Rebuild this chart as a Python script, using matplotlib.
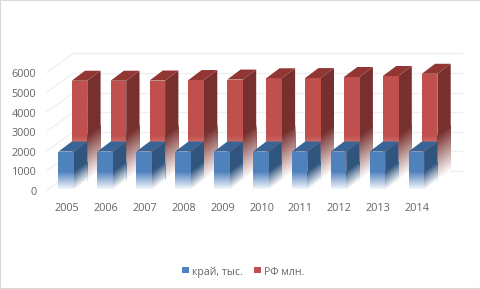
import numpy as np
import matplotlib
matplotlib.use('Agg')
import matplotlib.pyplot as plt
from matplotlib.colors import to_rgb
from matplotlib.patches import Rectangle

years = [2005, 2006, 2007, 2008, 2009, 2010, 2011, 2012, 2013, 2014]
kray = [1960, 1960, 1960, 1960, 1960, 1960, 1960, 1960, 1960, 1960]
rf = [5065, 5065, 5075, 5100, 5125, 5190, 5200, 5255, 5306, 5420]
y_ticks = [0, 1000, 2000, 3000, 4000, 5000, 6000]

W, H = 481, 289
X0, DX = 66.2, 38.9     # pixel position of first category, category step
Y0, DY = 190.0, 19.6    # pixel position of zero, pixels per 1000

# depth of one bar and of the whole floor, in data units
BAR_DX, BAR_DY = 13.3 / DX, 10 / DY * 1000
WALL_DX, WALL_DY = 26.5 / DX, 19 / DY * 1000
HALF = 7.8 / DX

TICK_COLOR = '#666666'
GRID_COLOR = '#efefef'
TEXT_SHIFT = 130


def shade(ax, x0, y0, x1, y1, height, color, fade):
    # painter's gradient: full quad first, then shorter and whiter ones over it
    rgb = np.array(to_rgb(color))
    ax.fill([x0, x1, x1, x0], [y0, y1, y1 + height, y0 + height], color=color, lw=0)
    for h in np.linspace(fade, 0, 48, endpoint=False):
        c = rgb + (1 - rgb) * (1 - h / fade)
        ax.fill([x0, x1, x1, x0], [y0, y1, y1 + h, y0 + h], color=c, lw=0)
    # hide the fringe the stacked quads leave along the bottom edge
    ax.fill([x0, x1, x1, x0], [y0 - 90, y1 - 90, y1 + 30, y0 + 30], color='white', lw=0)


def bar(ax, x, base, value, front, side, top, fade):
    left, right = x - HALF, x + HALF
    shade(ax, right, base, right + BAR_DX, base + BAR_DY, value, side, fade)
    shade(ax, left, base, right, base, value, front, fade)
    ax.fill([left, right, right + BAR_DX, left + BAR_DX],
            [base + value, base + value, base + value + BAR_DY, base + value + BAR_DY],
            color=top, lw=0)


fig = plt.figure(figsize=(W / 100, H / 100), dpi=100)
ax = fig.add_axes([0, 0, 1, 1])
plt.rcParams['font.family'] = ['Open Sans', 'DejaVu Sans']

ax.axis('off')

wall_left = (47 - X0) / DX
wall_right = (462 - X0) / DX
for t in y_ticks:
    ax.plot([wall_left, wall_left + WALL_DX], [t, t + WALL_DY], color=GRID_COLOR, lw=0.9, zorder=0)
    ax.plot([wall_left + WALL_DX, wall_right], [t + WALL_DY, t + WALL_DY],
            color=GRID_COLOR, lw=0.9, zorder=0)

for i, v in enumerate(rf):
    bar(ax, i + BAR_DX, BAR_DY, v, '#c0504d', '#77302e', '#923634', 2300)
for i, v in enumerate(kray):
    bar(ax, i, 0, v, '#4f81bd', '#30557f', '#386496', 950)

for t in y_ticks:
    ax.text(-0.77, t - TEXT_SHIFT, str(t), ha='right', va='center', fontsize=7.8, color=TICK_COLOR)
for i, y in enumerate(years):
    ax.text(i + 0.02, -800 - TEXT_SHIFT, str(y), ha='center', va='center', fontsize=7.8, color=TICK_COLOR)

# legend
leg_y = -(270 - Y0) / DY * 1000
for px, col, label in [(182, '#4f81bd', 'край, тыс.'), (254, '#c0504d', 'РФ млн.')]:
    ax.add_patch(Rectangle(((px - X0) / DX, leg_y - 150), 6.5 / DX, 300, color=col, lw=0))
    ax.text((px + 9.5 - X0) / DX, leg_y - TEXT_SHIFT, label, ha='left', va='center', fontsize=7.6, color=TICK_COLOR)

ax.set_xlim(-X0 / DX, (W - X0) / DX)
ax.set_ylim(-(H - Y0) / DY * 1000, Y0 / DY * 1000)

fig.add_artist(Rectangle((0, 0), 1, 1, transform=fig.transFigure, fill=False, ec='#d9d9d9', lw=1.5))

fig.savefig('out.png', dpi=100)
